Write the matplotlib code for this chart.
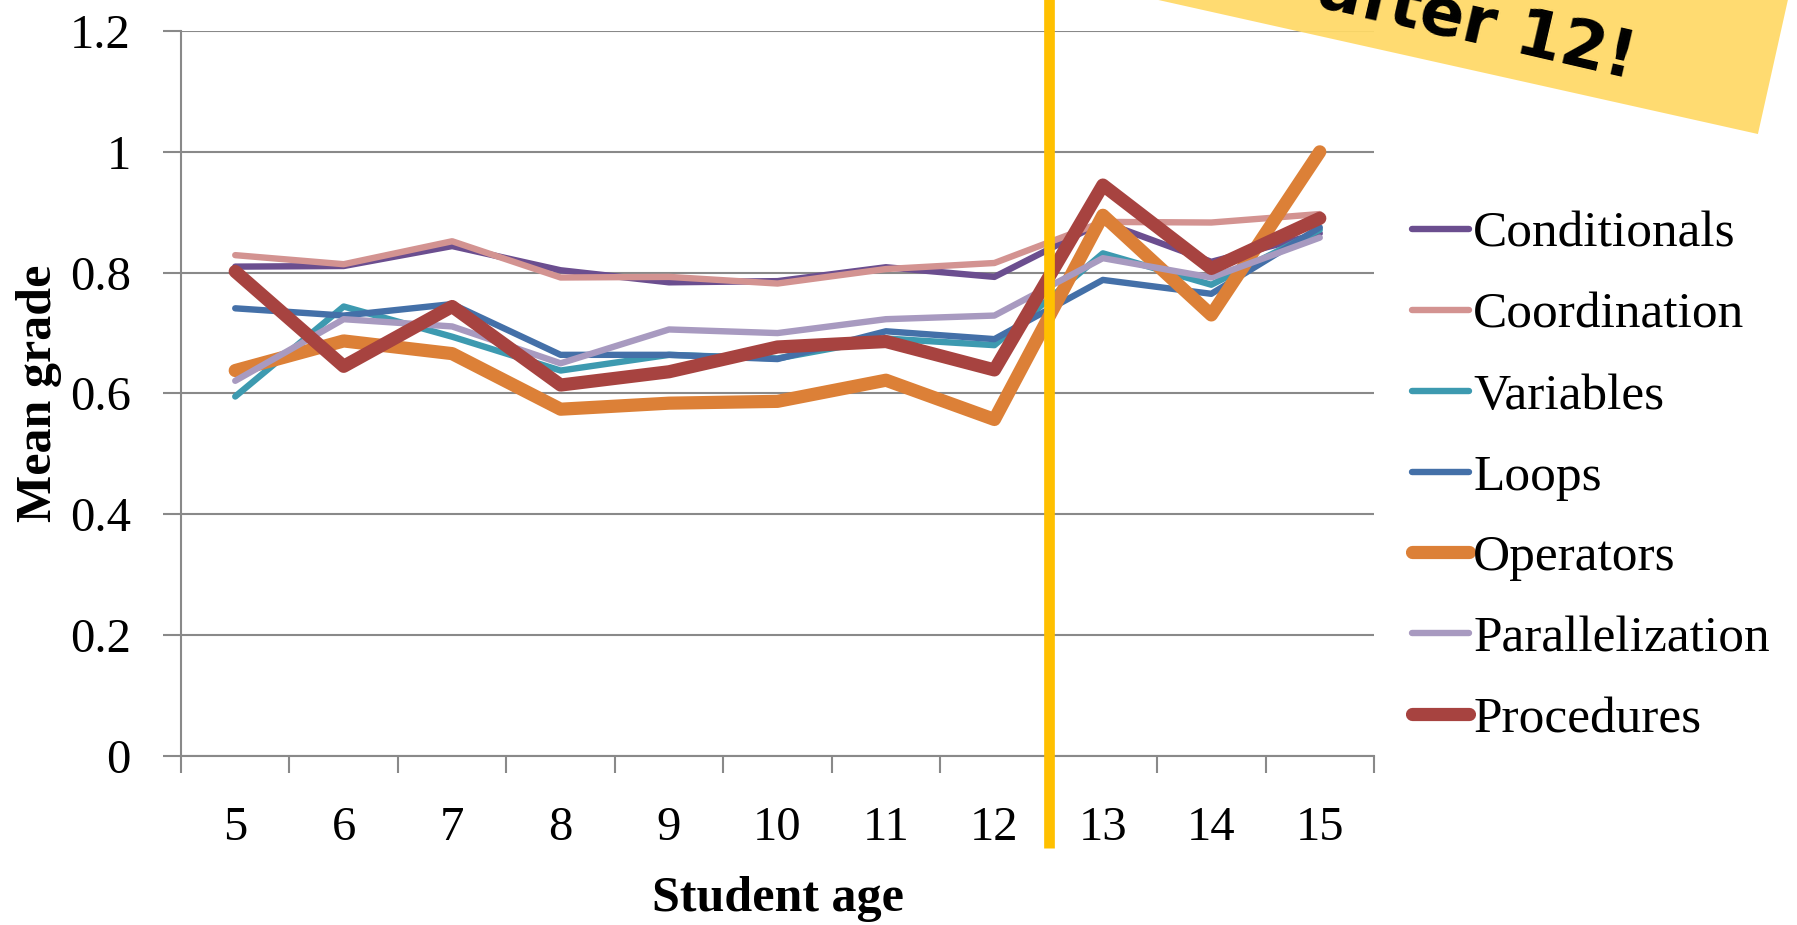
import numpy as np
import matplotlib
matplotlib.use("Agg")
import matplotlib.pyplot as plt
from matplotlib.patches import Rectangle

plt.rcParams['font.family'] = ['Liberation Serif', 'DejaVu Serif']

# mean grade per concept, by student age
ages = [5, 6, 7, 8, 9, 10, 11, 12, 13, 14, 15]
conditionals = [0.810, 0.811, 0.844, 0.804, 0.784, 0.786, 0.809, 0.793, 0.884, 0.818, 0.865]
coordination = [0.829, 0.814, 0.852, 0.792, 0.793, 0.782, 0.806, 0.816, 0.884, 0.883, 0.897]
variables = [0.595, 0.744, 0.694, 0.638, 0.664, 0.658, 0.691, 0.680, 0.832, 0.780, 0.871]
loops = [0.741, 0.729, 0.748, 0.664, 0.664, 0.657, 0.703, 0.690, 0.788, 0.765, 0.875]
operators = [0.638, 0.687, 0.666, 0.574, 0.584, 0.587, 0.622, 0.557, 0.895, 0.730, 1.000]
parallelization = [0.621, 0.723, 0.711, 0.650, 0.706, 0.700, 0.723, 0.729, 0.824, 0.792, 0.858]
procedures = [0.802, 0.645, 0.744, 0.614, 0.636, 0.677, 0.686, 0.639, 0.945, 0.807, 0.890]

series = [
    ("Conditionals", conditionals, '#6B4E8F', 4.6),
    ("Coordination", coordination, '#D39391', 4.6),
    ("Variables", variables, '#3D9AB0', 4.6),
    ("Loops", loops, '#4470A8', 4.6),
    ("Operators", operators, '#DC8037', 9.5),
    ("Parallelization", parallelization, '#A89AC0', 4.6),
    ("Procedures", procedures, '#A74340', 9.5),
]
y_ticks = [0, 0.2, 0.4, 0.6, 0.8, 1.0, 1.2]
y_labels = ['0', '0.2', '0.4', '0.6', '0.8', '1', '1.2']
cutoff_age = 12.5

grey = '#898989'
fs = 35

fig = plt.figure(figsize=(17.97, 9.25), dpi=100)
ax = fig.add_axes([181 / 1797, 1 - 756 / 925, (1374 - 181) / 1797, (756 - 31) / 925])

for name, vals, col, lw in series:
    ax.plot(ages, vals, color=col, lw=lw, label=name,
            solid_capstyle='round', solid_joinstyle='round')

ax.set_xlim(4.5, 15.5)
ax.set_ylim(0, 1.2)

# category boundaries get the tick marks, centres get the labels
ax.set_xticks(np.arange(4.5, 16, 1))
ax.set_xticklabels([])
ax.set_xticks(ages, minor=True)
ax.set_xticklabels([str(a) for a in ages], minor=True, fontsize=fs)
ax.tick_params(axis='x', which='major', direction='out', length=12, width=1.5, color=grey)
ax.tick_params(axis='x', which='minor', length=0, pad=36)

ax.set_yticks(y_ticks)
ax.set_yticklabels(y_labels, fontsize=fs)
ax.tick_params(axis='y', direction='out', length=13, width=1.5, color=grey, pad=23)

ax.yaxis.grid(True, color=grey, lw=1.5)
ax.set_axisbelow(True)
for s in ['top', 'right']:
    ax.spines[s].set_visible(False)
for s in ['left', 'bottom']:
    ax.spines[s].set_color(grey)
    ax.spines[s].set_linewidth(1.5)

ax.set_xlabel('Student age', fontsize=36, fontweight='bold', labelpad=19)
ax.set_ylabel('Mean grade', fontsize=36, fontweight='bold', labelpad=6)

# age 12 cut-off marker, running past the axes
ax.axvline(cutoff_age, ymin=-0.127, ymax=1.05, color='#FFC000', lw=7.7,
           solid_capstyle='butt', clip_on=False, zorder=5)

fig.legend(loc='upper left', bbox_to_anchor=(0.786, 0.772), frameon=False,
           fontsize=37, handlelength=1.1, handletextpad=0.08,
           labelspacing=0.66, borderaxespad=0, borderpad=0)

# banner in the corner
banner = Rectangle((8.796, 9.873), 9.0, 3.0, angle=-12.6, rotation_point='xy',
                   transform=fig.dpi_scale_trans, facecolor='#FFD966',
                   edgecolor='none', alpha=0.93, zorder=10)
fig.add_artist(banner)
fig.text(16.30, 8.46, 'after 12!', transform=fig.dpi_scale_trans,
         ha='right', va='baseline', rotation=-13, rotation_mode='anchor',
         fontsize=47, fontweight='bold', family='DejaVu Sans', zorder=11)

fig.savefig('out.png', dpi=100)
